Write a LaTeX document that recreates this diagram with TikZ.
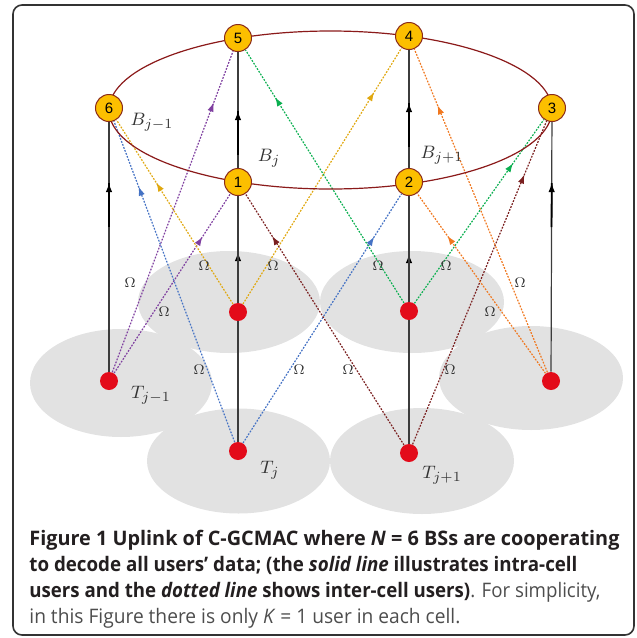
\documentclass[tikz,border=0pt]{standalone}
\usepackage{graphicx}
\usepackage{fontspec}
\newfontfamily\capfont{Open Sans}
\newfontfamily\numfont{Liberation Sans}
\usetikzlibrary{decorations.markings,arrows.meta}
\definecolor{bsfill}{RGB}{252,191,0}
\definecolor{bsborder}{RGB}{139,44,26}
\definecolor{ringred}{RGB}{139,26,26}
\definecolor{userred}{RGB}{227,11,26}
\definecolor{cellgray}{RGB}{226,226,226}
\definecolor{cpurple}{RGB}{127,63,160}
\definecolor{cblue}{RGB}{68,114,196}
\definecolor{cgold}{RGB}{224,168,16}
\definecolor{cgreen}{RGB}{11,175,80}
\definecolor{cbrown}{RGB}{122,31,31}
\definecolor{corange}{RGB}{240,120,32}
\definecolor{solidgray}{RGB}{60,60,60}
\definecolor{labelgray}{RGB}{51,51,51}
\definecolor{capbold}{RGB}{35,31,32}
\definecolor{capreg}{RGB}{77,77,77}
\definecolor{framegray}{RGB}{51,51,51}
\pgfdeclarelayer{cells}
\pgfdeclarelayer{links}
\pgfsetlayers{cells,links,main}
\begin{document}
\begin{tikzpicture}[x=0.5pt,y=-0.5pt,
  >={Latex[length=4.5pt,width=3.2pt]},
  bs/.style={circle, fill=bsfill, draw=bsborder, line width=0.5pt, minimum size=13.5pt, inner sep=0pt, font=\numfont\fontsize{7.5}{8}\selectfont},
  user/.style={circle, fill=userred, minimum size=9pt, inner sep=0pt},
  cell/.style={fill=cellgray, draw=none},
  intra/.style={draw=solidgray, line width=0.6pt, postaction={decorate},
    decoration={markings, mark=at position -#1 with {\draw[black, line width=0.9pt] (0,0) -- (-22pt,0); \arrow[black]{>}}}},
  inter/.style 2 args={draw=#1, line width=0.6pt, dash pattern=on 0.9pt off 0.7pt, postaction={decorate},
    decoration={markings, mark=at position -#2 with {\arrow[#1]{>}}}},
  omega/.style={font=\fontsize{7.5}{9}\selectfont, text=labelgray, inner sep=0pt},
  lbl/.style={font=\fontsize{9.5}{11}\selectfont, text=labelgray, inner sep=0pt},
  capb/.style={anchor=base west, inner sep=0pt, font=\capfont\fontsize{10}{13.5}\selectfont, text=capbold},
]
\useasboundingbox (0,0) rectangle (637,638);
\draw[framegray, line width=0.8pt, rounded corners=4.5pt] (13,5) rectangle (634,635);

% cells
\begin{pgfonlayer}{cells}
\fill[cell] (121,383) ellipse [x radius=91, y radius=54];
\fill[cell] (229,302) ellipse [x radius=91, y radius=51];
\fill[cell] (412,302) ellipse [x radius=92, y radius=51];
\fill[cell] (531,378) ellipse [x radius=92, y radius=52];
\fill[cell] (238.5,461) ellipse [x radius=91.5, y radius=52.5];
\fill[cell] (422,461) ellipse [x radius=92, y radius=53];
\end{pgfonlayer}

% ring of base stations
\draw[ringred, line width=0.6pt] (330.5,110) ellipse [x radius=221.5, y radius=79];

% base stations
\node[bs] (B5) at (238,38) {5};
\node[bs] (B4) at (409,36) {4};
\node[bs] (B6) at (109,108) {6};
\node[bs] (B3) at (552,108) {3};
\node[bs] (B1) at (238,182) {1};
\node[bs] (B2) at (409,182) {2};

% users
\node[user] (U1) at (109,381) {};
\node[user] (Ua) at (238,312) {};
\node[user] (Ub) at (409,311) {};
\node[user] (Ur) at (551,381) {};
\node[user] (Uj) at (238,451) {};
\node[user] (Uk) at (409,453) {};

% links
\begin{pgfonlayer}{links}
\draw[intra=30.5pt] (U1) -- (B6);
\draw[intra=28pt] (Ua) -- (B1);
\draw[intra=29.5pt] (Uj) -- (B5);
\draw[intra=29pt] (Ub) -- (B2);
\draw[intra=26.5pt] (Uk) -- (B4);
\draw[intra=30.5pt] (Ur) -- (B3);

\draw[inter={cpurple}{27.5pt}] (U1) -- (B5);
\draw[inter={cpurple}{25.5pt}] (U1) -- (B1);
\draw[inter={cblue}{35pt}] (Uj) -- (B6);
\draw[inter={cblue}{25.5pt}] (Uj) -- (B2);
\draw[inter={cgold}{37pt}] (Ua) -- (B6);
\draw[inter={cgold}{26pt}] (Ua) -- (B4);
\draw[inter={cgreen}{28pt}] (Ub) -- (B5);
\draw[inter={cgreen}{26.5pt}] (Ub) -- (B3);
\draw[inter={cbrown}{25pt}] (Uk) -- (B1);
\draw[inter={cbrown}{29pt}] (Uk) -- (B3);
\draw[inter={corange}{30.5pt}] (Ur) -- (B4);
\draw[inter={corange}{26pt}] (Ur) -- (B2);
\end{pgfonlayer}

% labels
\node[lbl] (lBa) at (152,122) {$B_{j-1}$};
\node[lbl] (lBb) at (269,158) {$B_{j}$};
\node[lbl] (lBc) at (442,155) {$B_{j+1}$};
\node[lbl] (lTa) at (151,395) {$T_{j-1}$};
\node[lbl] (lTb) at (270,470) {$T_{j}$};
\node[lbl] (lTc) at (442,475) {$T_{j+1}$};

\node[omega] (o1) at (130,283) {$\Omega$};
\node[omega] (o2) at (164,312) {$\Omega$};
\node[omega] (o3) at (204,266) {$\Omega$};
\node[omega] (o4) at (273,266) {$\Omega$};
\node[omega] (o5) at (199,370) {$\Omega$};
\node[omega] (o6) at (299,370) {$\Omega$};
\node[omega] (o7) at (378,266) {$\Omega$};
\node[omega] (o8) at (446,266) {$\Omega$};
\node[omega] (o9) at (348,370) {$\Omega$};
\node[omega] (o10) at (450,370) {$\Omega$};
\node[omega] (o11) at (520,283) {$\Omega$};
\node[omega] (o12) at (490,312) {$\Omega$};

% caption
\node[capb] (cap1) at (29,545) {\resizebox{295pt}{\height}{\textbf{Figure 1 Uplink of C-GCMAC where \textit{N} = 6 BSs are cooperating}}};
\node[capb] (cap2) at (29,571) {\resizebox{274pt}{\height}{\textbf{to decode all users’ data; (the \textit{solid line} illustrates intra-cell}}};
\node[capb] (cap3) at (29,597) {\resizebox{285.5pt}{\height}{\textbf{users and the \textit{dotted line} shows inter-cell users)}\textcolor{capreg}{. For simplicity,}}};
\node[capb, text=capreg] (cap4) at (29,623) {\resizebox{215.5pt}{\height}{in this Figure there is only \textit{K} = 1 user in each cell.}};
\end{tikzpicture}
\end{document}
